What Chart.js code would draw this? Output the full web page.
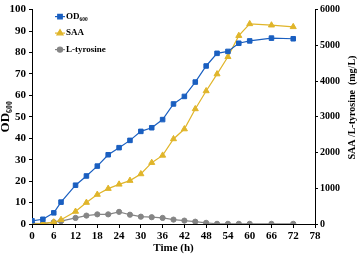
<!DOCTYPE html>
<html>
<head>
<meta charset="utf-8">
<script src="https://cdn.jsdelivr.net/npm/chart.js@4.4.0/dist/chart.umd.min.js"></script>
<style>
html,body{margin:0;padding:0;background:#fff;}
#wrap{width:359px;height:261px;position:relative;}
</style>
</head>
<body>
<div id="wrap"><canvas id="c" width="359" height="261"></canvas></div>
<script>
const times = [0,3,6,8,12,15,18,21,24,27,30,33,36,39,42,45,48,51,54,57,60,66,72];
const od600 = [1.5,2.2,5.2,10.2,18.1,22.4,27,32.3,35.6,39,43.2,44.9,48.7,56,59.5,66.2,73.7,79.6,80.5,84.3,85.4,86.7,86.4];
const saa = [0,10,50,120,350,600,825,990,1110,1215,1400,1717,1920,2380,2657,3220,3723,4196,4680,5270,5600,5563,5517];
const tyrosine = [20,10,50,80,170,235,270,270,340,260,205,190,170,123,95,65,33,5,5,5,5,5,5];
const seriesLabels = ['OD\u2086\u2080\u2080','SAA','L-tyrosine'];
const xTitle = 'Time (h)';
const yLeftTitle = 'OD\u2086\u2080\u2080';
const yRightTitle = 'SAA /L-tyrosine  (mg/L)';

const FONT = "'Liberation Serif','Times New Roman',serif";
const toXY = arr => arr.map((v,i)=>({x:times[i], y:v}));

const customLegend = {
  id:'customLegend',
  afterDraw(chart){
    const ctx = chart.ctx, ca = chart.chartArea;
    ctx.save();
    chart.data.datasets.forEach((ds,i)=>{
      const y = ca.top + 7 + i*16.5;
      const x0 = ca.left + 23;
      ctx.strokeStyle = ds.borderColor; ctx.fillStyle = ds.backgroundColor; ctx.lineWidth = 1.2;
      ctx.beginPath(); ctx.moveTo(x0, y); ctx.lineTo(x0+10, y); ctx.stroke();
      Chart.helpers.drawPoint(ctx, {pointStyle: ds.pointStyle, radius: ds.pointRadius, borderWidth:1}, x0+5, y);
      ctx.fillStyle = '#000';
      ctx.font = "bold 9px " + FONT;
      ctx.textBaseline = 'middle'; ctx.textAlign='left';
      ctx.fillText(ds.label, x0+11, y);
    });
    ctx.restore();
  }
};
// draws right title (reads bottom-to-top like the reference)
const rightTitle = {
  id:'rightTitle',
  afterDraw(chart){
    const ctx = chart.ctx, ca = chart.chartArea;
    ctx.save();
    ctx.translate(chart.width - 7, ca.top + 98);
    ctx.rotate(-Math.PI/2);
    ctx.fillStyle = '#000';
    ctx.font = "bold 10px " + FONT;
    ctx.textAlign='center'; ctx.textBaseline='middle';
    ctx.fillText(yRightTitle, 0, 0);
    ctx.restore();
  }
};

const blue = '#1a5fc0', yellow = '#e0b52a', grey = '#858585';
const plain = v => String(v);

new Chart(document.getElementById('c'), {
  type:'line',
  data:{
    datasets:[
      {label:seriesLabels[0], data:toXY(od600), yAxisID:'y', borderColor:blue, backgroundColor:blue, pointStyle:'rect', pointRadius:3.2, pointBorderWidth:1, borderWidth:1.2},
      {label:seriesLabels[1], data:toXY(saa), yAxisID:'y2', borderColor:yellow, backgroundColor:yellow, pointStyle:'triangle', pointRadius:3.5, pointBorderWidth:1, borderWidth:1.2},
      {label:seriesLabels[2], data:toXY(tyrosine), yAxisID:'y2', borderColor:grey, backgroundColor:grey, pointStyle:'circle', pointRadius:2.6, pointBorderWidth:1, borderWidth:1.2}
    ]
  },
  options:{
    responsive:false,
    animation:false,
    layout:{padding:{top:5,left:0,right:0,bottom:0}},
    plugins:{legend:{display:false}, tooltip:{enabled:false}},
    scales:{
      x:{type:'linear', position:'bottom', min:0, max:78,
        afterFit(s){ s.height = 37; },
        ticks:{stepSize:6, color:'#000', padding:2, callback:plain, font:{family:FONT, weight:'bold', size:11}},
        grid:{display:true, drawOnChartArea:false, drawTicks:true, tickLength:4, color:'#000'},
        border:{display:true, color:'#000', width:1},
        title:{display:true, text:xTitle, color:'#000', padding:{top:0,bottom:6}, font:{family:FONT, weight:'bold', size:11}}
      },
      y:{type:'linear', position:'left', min:0, max:100,
        afterFit(s){ s.width = 32; },
        ticks:{stepSize:10, color:'#000', padding:3, callback:plain, font:{family:FONT, weight:'bold', size:11}},
        grid:{display:true, drawOnChartArea:false, drawTicks:true, tickLength:3, color:'#000'},
        border:{display:true, color:'#000', width:1},
        title:{display:true, text:yLeftTitle, color:'#000', padding:{top:0,bottom:0}, font:{family:FONT, weight:'bold', size:13, lineHeight:0.8}}
      },
      y2:{type:'linear', position:'right', min:0, max:6000,
        afterFit(s){ s.width = 44; },
        ticks:{stepSize:1000, color:'#000', padding:2, callback:plain, font:{family:FONT, weight:'bold', size:10}},
        grid:{display:true, drawOnChartArea:false, drawTicks:true, tickLength:3, color:'#000'},
        border:{display:true, color:'#000', width:1}
      }
    }
  },
  plugins:[customLegend, rightTitle]
});
</script>
</body>
</html>
